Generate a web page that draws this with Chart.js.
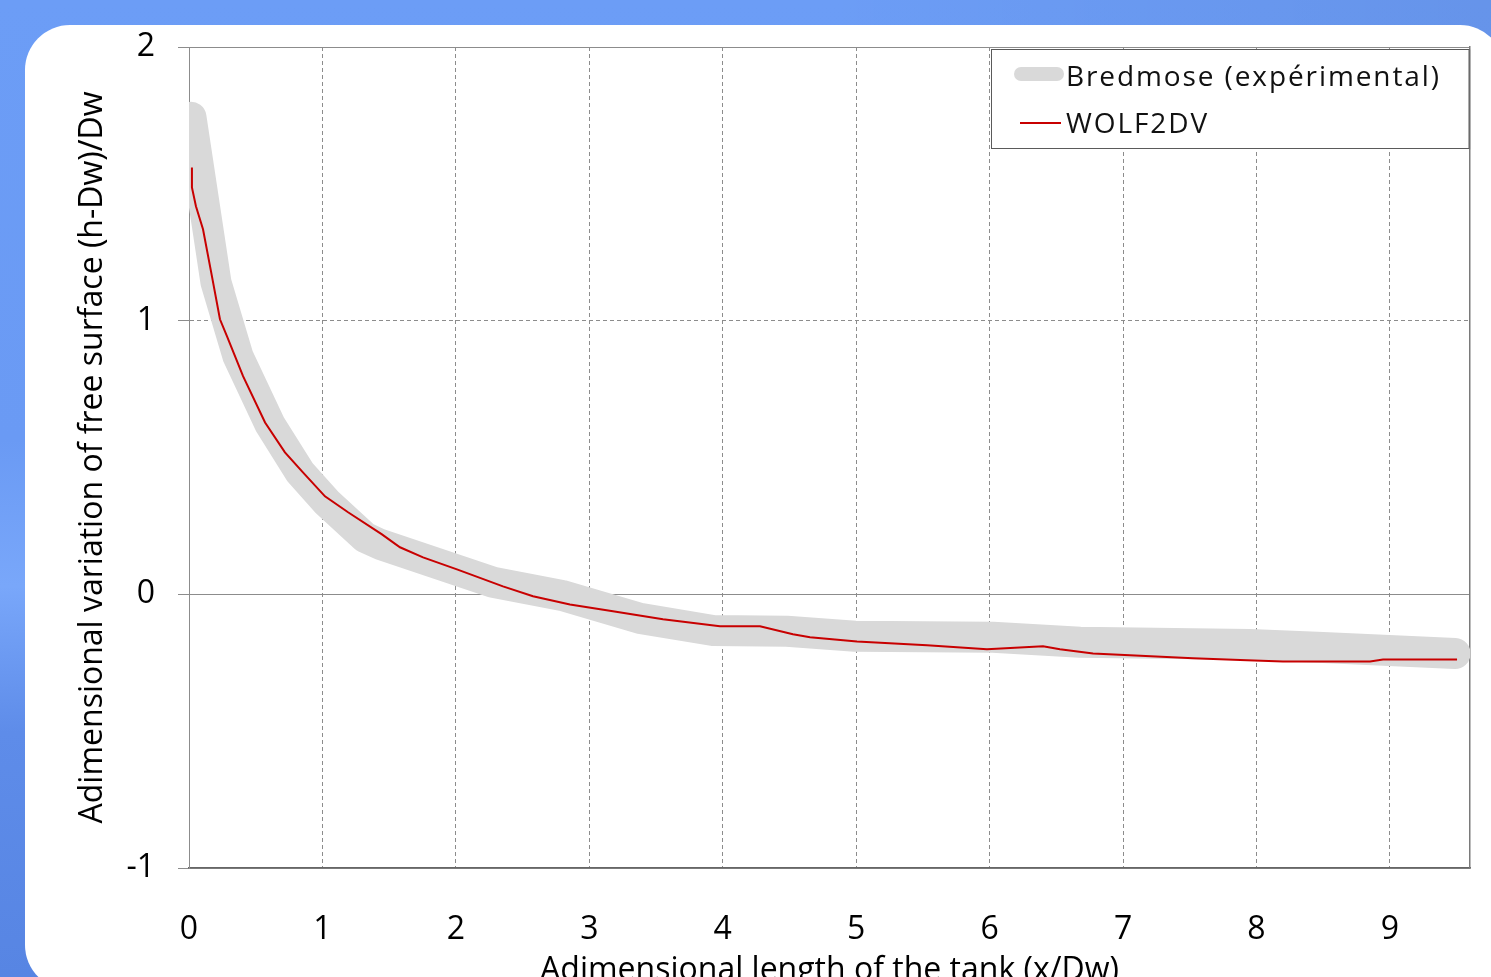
<!DOCTYPE html>
<html>
<head>
<meta charset="utf-8">
<script src="https://cdn.jsdelivr.net/npm/chart.js@4.4.1/dist/chart.umd.min.js"></script>
<style>
html, body { margin: 0; padding: 0; width: 1491px; height: 977px; overflow: hidden; }
body {
  background:
    linear-gradient(to right, rgba(0,0,40,0) 55%, rgba(0,0,40,0.06) 100%),
    linear-gradient(to bottom, #6c9df6 0%, #6a9af4 45%, #79a7fa 60%, #5e8ce9 75%, #5785e3 100%);
  position: relative;
}
#card { position: absolute; left: 25px; top: 25px; width: 1480px; height: 965px; background: #ffffff; border-radius: 45px; }
#c { position: absolute; left: 0; top: 0; }
</style>
</head>
<body>
<div id="card"></div>
<canvas id="c" width="1491" height="1000"></canvas>
<script>
// ---- Data ----
const seriesNames = ['Bredmose (expérimental)', 'WOLF2DV'];

// Bredmose (experimental) – thick grey band
const bredX = [0.015, 0.202, 0.367, 0.607, 0.832, 1.034, 1.319, 1.431, 2.278, 2.795, 3.380, 3.927, 4.481, 4.991, 6.025, 6.677, 7.951, 8.498, 9.488];
const bredY = [1.743, 1.140, 0.870, 0.621, 0.446, 0.336, 0.208, 0.183, 0.044, -0.004, -0.088, -0.132, -0.135, -0.153, -0.157, -0.175, -0.183, -0.194, -0.216];

// WOLF2DV – thin red line
const wolfX = [0.022, 0.022, 0.052, 0.105, 0.172, 0.232, 0.285, 0.405, 0.570, 0.719, 0.847, 1.019, 1.192, 1.446, 1.581, 1.754, 2.008, 2.353, 2.578, 2.855, 3.177, 3.552, 3.979, 4.279, 4.526, 4.654, 5.006, 5.531, 5.980, 6.400, 6.527, 6.775, 7.524, 7.929, 8.198, 8.851, 8.948, 9.503];
const wolfY = [1.560, 1.487, 1.418, 1.334, 1.162, 1.005, 0.943, 0.797, 0.628, 0.519, 0.449, 0.358, 0.300, 0.219, 0.172, 0.135, 0.091, 0.029, -0.007, -0.037, -0.062, -0.091, -0.117, -0.117, -0.146, -0.157, -0.172, -0.186, -0.201, -0.190, -0.201, -0.216, -0.234, -0.241, -0.245, -0.245, -0.238, -0.238];

// Axis ranges / ticks
const xMin = 0, xMax = 9.6, xStep = 1;
const yMin = -1, yMax = 2, yStep = 1;
const xTitle = 'Adimensional length of the tank (x/Dw)';
const yTitle = 'Adimensional variation of free surface (h-Dw)/Dw';

const toPts = (xs, ys) => xs.map((x, i) => ({ x: x, y: ys[i] }));

const FONT = "'Open Sans', 'Noto Sans', sans-serif";
const GRID = '#8c8c8c';

const boxLegend = {
  id: 'boxLegend',
  afterDraw(chart) {
    const ctx = chart.ctx;
    const ca = chart.chartArea;
    const bx = 991.5, by = 49.5, bw = ca.right - 1 - bx, bh = 99;
    ctx.save();
    ctx.fillStyle = '#ffffff';
    ctx.fillRect(bx, by, bw, bh);
    ctx.strokeStyle = '#5a5a5a';
    ctx.lineWidth = 1;
    ctx.strokeRect(bx, by, bw, bh);
    ctx.strokeStyle = '#b0b0b0';
    ctx.beginPath(); ctx.moveTo(bx + bw + 1.5, by); ctx.lineTo(bx + bw + 1.5, by + bh + 1); ctx.stroke();

    const ds = chart.data.datasets;
    const rows = [
      { y: 74, base: 86, x1: 1021, x2: 1057 },
      { y: 123, base: 133, x1: 1020, x2: 1061 }
    ];
    ds.forEach((d, i) => {
      const r = rows[i];
      ctx.strokeStyle = d.borderColor;
      ctx.lineWidth = i === 0 ? 14 : 2;
      ctx.lineCap = i === 0 ? 'round' : 'butt';
      ctx.beginPath(); ctx.moveTo(r.x1, r.y); ctx.lineTo(r.x2, r.y); ctx.stroke();
      ctx.fillStyle = '#111111';
      ctx.font = "28px " + FONT;
      if ('letterSpacing' in ctx) ctx.letterSpacing = '1.9px';
      ctx.textAlign = 'left';
      ctx.textBaseline = 'alphabetic';
      ctx.fillText(d.label, 1066, r.base);
    });
    ctx.restore();
  }
};

new Chart(document.getElementById('c'), {
  type: 'scatter',
  data: {
    datasets: [
      {
        label: seriesNames[0],
        data: toPts(bredX, bredY),
        showLine: true,
        borderColor: '#d9d9d9',
        backgroundColor: '#d9d9d9',
        borderWidth: 31,
        borderCapStyle: 'round',
        borderJoinStyle: 'round',
        pointRadius: 0,
        tension: 0,
        clip: 0,
        order: 2
      },
      {
        label: seriesNames[1],
        data: toPts(wolfX, wolfY),
        showLine: true,
        borderColor: '#c80000',
        backgroundColor: '#c80000',
        borderWidth: 2,
        pointRadius: 0,
        tension: 0,
        clip: 0,
        order: 1
      }
    ]
  },
  options: {
    responsive: false,
    animation: false,
    devicePixelRatio: 1,
    layout: { padding: { left: 0, top: 47, right: 21, bottom: 0 } },
    plugins: { legend: { display: false }, tooltip: { enabled: false } },
    scales: {
      x: {
        type: 'linear',
        position: 'bottom',
        min: xMin, max: xMax,
        afterFit: s => { s.height = 132; },
        ticks: { stepSize: xStep, includeBounds: false, padding: 43, color: '#000', font: { family: FONT, size: 32 }, maxRotation: 0, autoSkip: false },
        grid: { display: true, drawTicks: false, color: GRID, lineWidth: 1, drawOnChartArea: true },
        border: { display: true, color: '#666666', width: 1.5, dash: c => (c.type === 'tick' && c.tick && c.tick.value > 0) ? [4, 3] : [] },
        title: { display: true, text: xTitle, color: '#000', font: { family: FONT, size: 32 }, padding: { top: 0, bottom: 10 } }
      },
      y: {
        type: 'linear',
        position: 'left',
        min: yMin, max: yMax,
        afterFit: s => { s.width = 189; },
        ticks: { stepSize: yStep, padding: 23, color: '#000', font: { family: FONT, size: 32 } },
        grid: { display: true, drawTicks: true, tickLength: 11, color: GRID, tickColor: GRID, lineWidth: 1 },
        border: { display: true, color: GRID, width: 1, dash: c => (c.type === 'tick' && c.tick && c.tick.value === 1) ? [4, 3] : [] },
        title: { display: true, text: yTitle, color: '#000', font: { family: FONT, size: 32 }, padding: { top: 74, bottom: 0 } }
      },
      y2: {
        type: 'linear',
        position: 'right',
        min: yMin, max: yMax,
        afterFit: s => { s.width = 0; },
        ticks: { display: false },
        grid: { display: true, drawOnChartArea: false, drawTicks: false },
        border: { display: true, color: '#7a7a7a', width: 1.5 }
      }
    }
  },
  plugins: [boxLegend]
});
</script>
</body>
</html>
